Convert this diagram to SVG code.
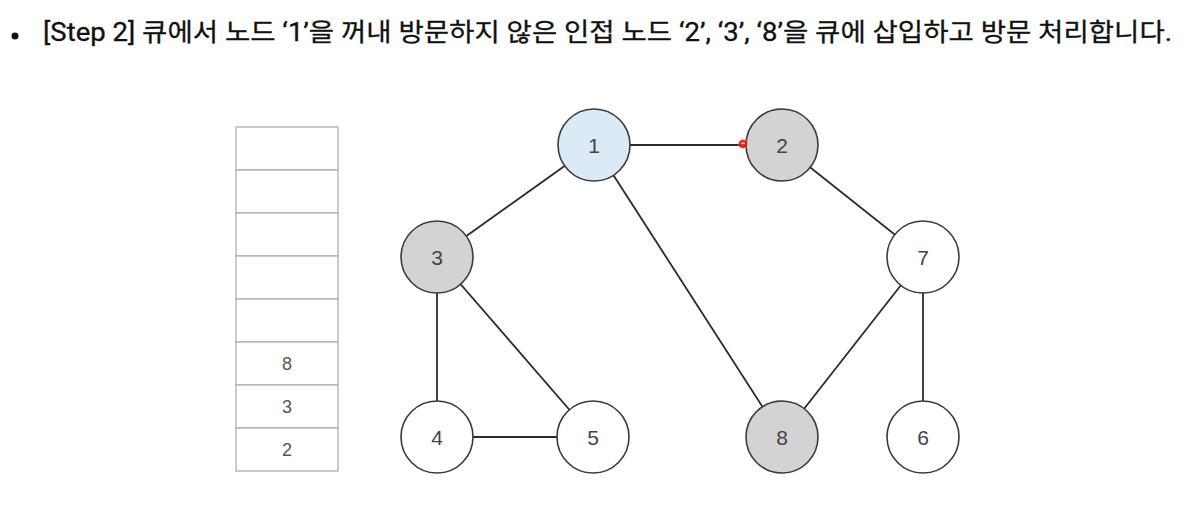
<svg xmlns="http://www.w3.org/2000/svg" width="1189" height="517" viewBox="0 0 1189 517">
<style>
.title{font-family:"Roboto","Noto Sans CJK KR",sans-serif;font-size:25px;fill:#111;font-weight:400}
.cell{fill:#fff;stroke:#b0b0b0;stroke-width:1.3}
.qt{font-family:"Liberation Sans",Arial,sans-serif;font-size:18px;fill:#555;text-anchor:middle;dominant-baseline:central}
.node{stroke:#3a3a3a;stroke-width:1.6}
.w{fill:#fff}
.g{fill:#d3d3d3}
.b{fill:#dbeaf5}
.nt{font-family:"Liberation Sans",Arial,sans-serif;font-size:21px;fill:#444;text-anchor:middle;dominant-baseline:central}
.edge{stroke:#2a2a2a;stroke-width:1.8;fill:none}
</style>
<rect width="1189" height="517" fill="#fff"/>
<circle cx="15" cy="36" r="3.5" fill="#111"/>
<text class="title" x="43" y="41" textLength="1129" lengthAdjust="spacingAndGlyphs" stroke="#111" stroke-width="0.3">[Step 2] 큐에서 노드 ‘1’을 꺼내 방문하지 않은 인접 노드 ‘2’, ‘3’, ‘8’을 큐에 삽입하고 방문 처리합니다.</text>
<g id="queue">
<rect class="cell" x="236" y="127" width="102" height="43"/>
<rect class="cell" x="236" y="170" width="102" height="43"/>
<rect class="cell" x="236" y="213" width="102" height="43"/>
<rect class="cell" x="236" y="256" width="102" height="43"/>
<rect class="cell" x="236" y="299" width="102" height="43"/>
<rect class="cell" x="236" y="342" width="102" height="43"/>
<rect class="cell" x="236" y="385" width="102" height="43"/>
<rect class="cell" x="236" y="428" width="102" height="43"/>
<text class="qt" x="287" y="364">8</text>
<text class="qt" x="287" y="407">3</text>
<text class="qt" x="287" y="450">2</text>
</g>
<g id="connectors">
<line class="edge" x1="594" y1="145" x2="782" y2="145"/>
<line class="edge" x1="594" y1="145" x2="437" y2="257"/>
<line class="edge" x1="594" y1="145" x2="782" y2="437"/>
<line class="edge" x1="782" y1="145" x2="923" y2="257"/>
<line class="edge" x1="437" y1="257" x2="437" y2="437"/>
<line class="edge" x1="437" y1="257" x2="593" y2="437"/>
<line class="edge" x1="437" y1="437" x2="593" y2="437"/>
<line class="edge" x1="923" y1="257" x2="782" y2="437"/>
<line class="edge" x1="923" y1="257" x2="923" y2="437"/>
</g>
<g id="node1"><circle class="node b" cx="594" cy="145" r="36"/><text class="nt" x="594" y="145">1</text></g>
<g id="node2"><circle class="node g" cx="782" cy="145" r="36"/><text class="nt" x="782" y="145">2</text></g>
<g id="node3"><circle class="node g" cx="437" cy="257" r="36"/><text class="nt" x="437" y="257">3</text></g>
<g id="node7"><circle class="node w" cx="923" cy="257" r="36"/><text class="nt" x="923" y="257">7</text></g>
<g id="node4"><circle class="node w" cx="437" cy="437" r="36"/><text class="nt" x="437" y="437">4</text></g>
<g id="node5"><circle class="node w" cx="593" cy="437" r="36"/><text class="nt" x="593" y="437">5</text></g>
<g id="node8"><circle class="node g" cx="782" cy="437" r="36"/><text class="nt" x="782" y="437">8</text></g>
<g id="node6"><circle class="node w" cx="923" cy="437" r="36"/><text class="nt" x="923" y="437">6</text></g>
<circle cx="743" cy="144" r="5" fill="#ff6a6a" opacity="0.6"/>
<circle cx="743" cy="144" r="3" fill="none" stroke="#e00" stroke-width="1.5"/>
</svg>
